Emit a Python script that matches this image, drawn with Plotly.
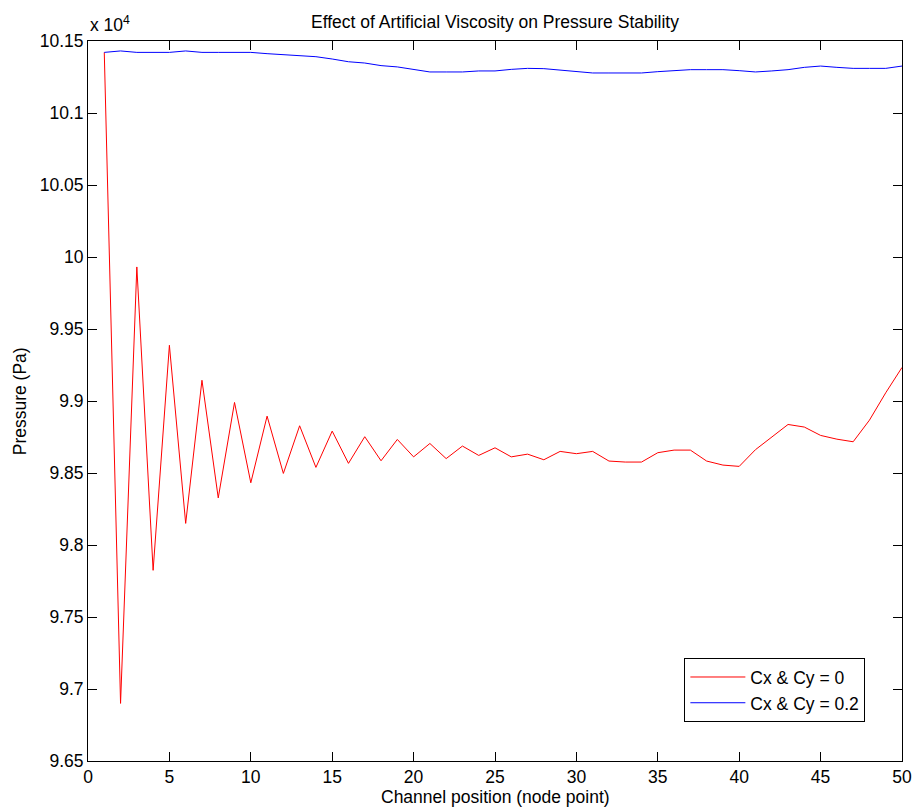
import plotly.graph_objects as go

# node points along the channel
nodes = list(range(1, 51))

# pressure (Pa) without artificial viscosity
p_no_visc = [
    101421, 96900, 99931, 97824, 99387, 98150, 99144, 98327, 98990, 98432,
    98895, 98497, 98828, 98539, 98791, 98567, 98752, 98585, 98733, 98612,
    98705, 98600, 98687, 98622, 98675, 98612, 98631, 98592, 98650, 98634,
    98650, 98583, 98576, 98576, 98641, 98659, 98659, 98583, 98555, 98546,
    98662, 98747, 98837, 98819, 98761, 98735, 98717, 98867, 99057, 99233,
]

# pressure (Pa) with Cx = Cy = 0.2
p_visc = [
    101421, 101431, 101421, 101421, 101421, 101431, 101421, 101421, 101421, 101421,
    101412, 101405, 101403, 101391, 101375, 101356, 101347, 101329, 101320, 101303,
    101285, 101285, 101285, 101292, 101292, 101303, 101310, 101308, 101299, 101287,
    101278, 101278, 101278, 101278, 101287, 101294, 101301, 101301, 101301, 101294,
    101285, 101292, 101301, 101317, 101326, 101317, 101310, 101310, 101310, 101326,
]

x_ticks = [0, 5, 10, 15, 20, 25, 30, 35, 40, 45, 50]
y_ticks = [96500, 97000, 97500, 98000, 98500, 99000, 99500, 100000, 100500, 101000, 101500]
y_tick_labels = ["9.65", "9.7", "9.75", "9.8", "9.85", "9.9", "9.95", "10", "10.05", "10.1", "10.15"]

FONT = "Liberation Sans, Arial, sans-serif"
SIZE = 17.5
text_font = {"size": SIZE, "color": "black", "family": FONT}

fig = go.Figure()
fig.add_trace(go.Scatter(x=nodes, y=p_no_visc, mode="lines", name="Cx & Cy = 0",
                         line={"color": "#ff0000", "width": 1}))
fig.add_trace(go.Scatter(x=nodes, y=p_visc, mode="lines", name="Cx & Cy = 0.2",
                         line={"color": "#0000ff", "width": 1}))

axis_style = {
    "showgrid": False, "zeroline": False,
    "showline": True, "linecolor": "black", "linewidth": 1, "mirror": "ticks",
    "ticks": "inside", "ticklen": 9, "tickcolor": "black",
    "tickfont": text_font,
}

fig.update_xaxes(range=[0, 50], tickvals=x_ticks, **axis_style)
fig.update_yaxes(range=[96500, 101500], tickvals=y_ticks, ticktext=y_tick_labels, **axis_style)

# axis titles and exponent placed as annotations so they sit where the original has them
fig.add_annotation(x=0.5, y=-0.0655, xref="paper", yref="paper", xanchor="center", yanchor="bottom",
                   text="Channel position (node point)", showarrow=False, borderpad=0, font=text_font)
fig.add_annotation(x=-0.0832, y=0.5, xref="paper", yref="paper", xanchor="center", yanchor="middle",
                   text="Pressure (Pa)", textangle=-90, showarrow=False, font=text_font)
fig.add_annotation(x=0, y=1, xref="paper", yref="paper", xanchor="left", yanchor="bottom",
                   text="x 10<sup>4</sup>", showarrow=False, yshift=4, font=text_font)

# the page body keeps its default 8px margin, so the figure is 8px smaller each way
fig.update_layout(
    width=916, height=801,
    margin={"l": 80, "r": 13, "t": 33, "b": 48},
    paper_bgcolor="white", plot_bgcolor="white",
    font=text_font,
    title={"text": "Effect of Artificial Viscosity on Pressure Stability",
           "x": 0.5, "xref": "paper", "xanchor": "center", "y": 0.9825, "yanchor": "middle",
           "font": text_font},
    legend={"x": 0.955, "y": 0.054, "xanchor": "right", "yanchor": "bottom",
            "bordercolor": "black", "borderwidth": 1, "bgcolor": "white",
            "itemwidth": 55, "font": text_font},
)

fig.write_html("out.html")
